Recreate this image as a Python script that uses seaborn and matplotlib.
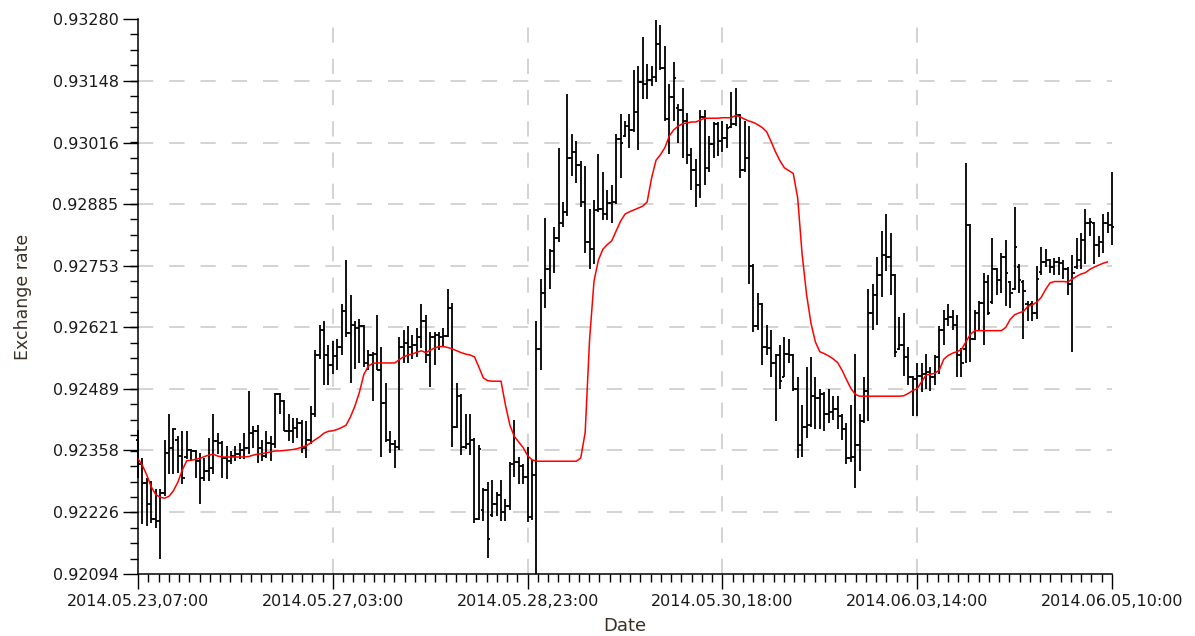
import numpy as np
import pandas as pd
import matplotlib
matplotlib.use("Agg")
import matplotlib.pyplot as plt
import seaborn as sns

# Hourly OHLC bars, 2014.05.23 07:00 .. 2014.06.05 10:00 (one bar per hour, weekend skipped)
bar_open = [
    0.92381, 0.92330, 0.92289, 0.92243, 0.92211, 0.92208, 0.92268, 0.92353, 0.92364, 0.92380,
    0.92346, 0.92345, 0.92360, 0.92357, 0.92335, 0.92300, 0.92314, 0.92321, 0.92378, 0.92374,
    0.92342, 0.92335, 0.92346, 0.92350, 0.92360, 0.92364, 0.92396, 0.92400, 0.92364, 0.92346,
    0.92374, 0.92371, 0.92478, 0.92463, 0.92399, 0.92400, 0.92405, 0.92417, 0.92364, 0.92380,
    0.92435, 0.92561, 0.92616, 0.92561,
    0.92541, 0.92560, 0.92580, 0.92655, 0.92608, 0.92627, 0.92620, 0.92623, 0.92545, 0.92561,
    0.92565, 0.92529, 0.92459, 0.92380, 0.92372, 0.92365, 0.92580, 0.92588, 0.92580, 0.92583,
    0.92600, 0.92635, 0.92561, 0.92600, 0.92604, 0.92600, 0.92603, 0.92663, 0.92408, 0.92474,
    0.92365, 0.92372, 0.92380, 0.92212, 0.92230, 0.92274, 0.92220, 0.92243, 0.92263, 0.92227,
    0.92239, 0.92329, 0.92333, 0.92325,
    0.92302, 0.92216, 0.92305, 0.92575, 0.92694, 0.92745, 0.92784, 0.92812, 0.92843, 0.92867,
    0.92984, 0.92996, 0.92969, 0.92890, 0.92804, 0.92788, 0.92871, 0.92874, 0.92863, 0.92886,
    0.92890, 0.93023, 0.93030, 0.93051, 0.93043, 0.93082, 0.93145, 0.93141, 0.93149, 0.93157,
    0.93227, 0.93176, 0.93067, 0.93114, 0.93090, 0.93086, 0.93063, 0.92990, 0.92957, 0.92925,
    0.93071, 0.92961, 0.93012, 0.93055,
    0.93020, 0.93025, 0.93050, 0.93055, 0.93074, 0.92957, 0.92984, 0.92753, 0.92623, 0.92670,
    0.92580, 0.92576, 0.92545, 0.92561, 0.92516, 0.92565, 0.92561, 0.92490, 0.92369, 0.92408,
    0.92412, 0.92474, 0.92470, 0.92478, 0.92435, 0.92440, 0.92447, 0.92431, 0.92404, 0.92341,
    0.92345, 0.92369, 0.92420, 0.92486, 0.92651, 0.92690, 0.92733, 0.92776, 0.92772, 0.92733,
    0.92575, 0.92584, 0.92557, 0.92514,
    0.92510, 0.92518, 0.92522, 0.92525, 0.92514, 0.92557, 0.92616, 0.92639, 0.92643, 0.92627,
    0.92561, 0.92575, 0.92839, 0.92596, 0.92651, 0.92674, 0.92718, 0.92675, 0.92745, 0.92722,
    0.92772, 0.92718, 0.92702, 0.92750, 0.92718, 0.92670, 0.92670, 0.92651, 0.92740, 0.92761,
    0.92765, 0.92749, 0.92761, 0.92758, 0.92745, 0.92714, 0.92750, 0.92765, 0.92808, 0.92843,
    0.92843, 0.92796, 0.92804, 0.92843, 0.92840,
]
bar_high = [
    0.92401, 0.92342, 0.92300, 0.92293, 0.92275, 0.92275, 0.92381, 0.92435, 0.92406, 0.92389,
    0.92399, 0.92399, 0.92362, 0.92358, 0.92353, 0.92342, 0.92385, 0.92435, 0.92396, 0.92378,
    0.92367, 0.92356, 0.92367, 0.92374, 0.92396, 0.92484, 0.92410, 0.92413, 0.92381, 0.92399,
    0.92389, 0.92480, 0.92480, 0.92466, 0.92435, 0.92428, 0.92428, 0.92424, 0.92421, 0.92453,
    0.92572, 0.92627, 0.92635, 0.92584,
    0.92592, 0.92596, 0.92670, 0.92765, 0.92690, 0.92635, 0.92639, 0.92627, 0.92572, 0.92569,
    0.92647, 0.92580, 0.92502, 0.92400, 0.92380, 0.92600, 0.92616, 0.92623, 0.92604, 0.92620,
    0.92670, 0.92647, 0.92612, 0.92612, 0.92612, 0.92620, 0.92702, 0.92674, 0.92502, 0.92478,
    0.92435, 0.92435, 0.92384, 0.92369, 0.92278, 0.92290, 0.92294, 0.92270, 0.92294, 0.92255,
    0.92333, 0.92423, 0.92345, 0.92330,
    0.92366, 0.92337, 0.92635, 0.92725, 0.92855, 0.92788, 0.92835, 0.93004, 0.92890, 0.93119,
    0.93035, 0.93020, 0.92976, 0.92965, 0.92874, 0.92894, 0.92992, 0.92953, 0.92914, 0.92925,
    0.93035, 0.93078, 0.93063, 0.93078, 0.93172, 0.93180, 0.93242, 0.93184, 0.93180, 0.93278,
    0.93267, 0.93223, 0.93141, 0.93188, 0.93098, 0.93133, 0.93080, 0.93004, 0.92980, 0.93086,
    0.93086, 0.93031, 0.93059, 0.93059,
    0.93063, 0.93055, 0.93125, 0.93133, 0.93078, 0.93063, 0.93051, 0.92756, 0.92694, 0.92673,
    0.92627, 0.92616, 0.92565, 0.92584, 0.92600, 0.92596, 0.92564, 0.92514, 0.92455, 0.92537,
    0.92557, 0.92514, 0.92490, 0.92482, 0.92490, 0.92474, 0.92474, 0.92435, 0.92416, 0.92455,
    0.92565, 0.92435, 0.92514, 0.92702, 0.92714, 0.92772, 0.92827, 0.92863, 0.92823, 0.92736,
    0.92643, 0.92651, 0.92580, 0.92518,
    0.92545, 0.92545, 0.92565, 0.92537, 0.92561, 0.92623, 0.92659, 0.92670, 0.92659, 0.92647,
    0.92576, 0.92973, 0.92842, 0.92659, 0.92678, 0.92737, 0.92733, 0.92812, 0.92748, 0.92780,
    0.92808, 0.92720, 0.92878, 0.92757, 0.92722, 0.92678, 0.92678, 0.92753, 0.92792, 0.92788,
    0.92768, 0.92769, 0.92772, 0.92765, 0.92749, 0.92776, 0.92812, 0.92823, 0.92874, 0.92855,
    0.92846, 0.92816, 0.92863, 0.92867, 0.92953,
]
bar_low = [
    0.92300, 0.92200, 0.92197, 0.92204, 0.92193, 0.92126, 0.92261, 0.92307, 0.92307, 0.92310,
    0.92286, 0.92339, 0.92335, 0.92300, 0.92243, 0.92293, 0.92293, 0.92307, 0.92350, 0.92300,
    0.92296, 0.92328, 0.92335, 0.92339, 0.92339, 0.92350, 0.92364, 0.92332, 0.92335, 0.92342,
    0.92335, 0.92364, 0.92435, 0.92399, 0.92378, 0.92374, 0.92385, 0.92353, 0.92342, 0.92371,
    0.92430, 0.92553, 0.92498, 0.92498,
    0.92521, 0.92529, 0.92561, 0.92600, 0.92502, 0.92533, 0.92545, 0.92537, 0.92529, 0.92463,
    0.92529, 0.92345, 0.92376, 0.92353, 0.92321, 0.92360, 0.92545, 0.92545, 0.92553, 0.92557,
    0.92576, 0.92545, 0.92494, 0.92541, 0.92572, 0.92580, 0.92600, 0.92365, 0.92405, 0.92349,
    0.92361, 0.92349, 0.92204, 0.92210, 0.92208, 0.92129, 0.92216, 0.92219, 0.92208, 0.92208,
    0.92231, 0.92302, 0.92286, 0.92286,
    0.92205, 0.92210, 0.92094, 0.92529, 0.92663, 0.92702, 0.92737, 0.92804, 0.92835, 0.92859,
    0.92945, 0.92929, 0.92878, 0.92780, 0.92745, 0.92757, 0.92867, 0.92851, 0.92851, 0.92843,
    0.92885, 0.92941, 0.93027, 0.93004, 0.93039, 0.93000, 0.93110, 0.93110, 0.93137, 0.93145,
    0.93172, 0.93063, 0.92992, 0.93063, 0.93016, 0.92984, 0.92970, 0.92914, 0.92878, 0.92898,
    0.92925, 0.92953, 0.92984, 0.92988,
    0.92996, 0.93004, 0.93047, 0.93051, 0.92941, 0.92953, 0.92714, 0.92612, 0.92616, 0.92541,
    0.92561, 0.92514, 0.92420, 0.92490, 0.92514, 0.92545, 0.92486, 0.92341, 0.92345, 0.92384,
    0.92408, 0.92404, 0.92404, 0.92400, 0.92416, 0.92423, 0.92404, 0.92380, 0.92329, 0.92333,
    0.92278, 0.92314, 0.92417, 0.92420, 0.92616, 0.92627, 0.92686, 0.92741, 0.92690, 0.92557,
    0.92572, 0.92518, 0.92498, 0.92431,
    0.92431, 0.92482, 0.92490, 0.92486, 0.92498, 0.92522, 0.92584, 0.92623, 0.92616, 0.92514,
    0.92514, 0.92545, 0.92547, 0.92593, 0.92616, 0.92584, 0.92647, 0.92670, 0.92690, 0.92694,
    0.92667, 0.92663, 0.92700, 0.92694, 0.92596, 0.92635, 0.92635, 0.92639, 0.92733, 0.92749,
    0.92737, 0.92733, 0.92733, 0.92725, 0.92690, 0.92569, 0.92745, 0.92745, 0.92757, 0.92816,
    0.92757, 0.92772, 0.92780, 0.92823, 0.92796,
]
bar_close = [
    0.92330, 0.92289, 0.92243, 0.92211, 0.92208, 0.92268, 0.92353, 0.92364, 0.92403, 0.92346,
    0.92300, 0.92360, 0.92357, 0.92335, 0.92300, 0.92314, 0.92321, 0.92378, 0.92374, 0.92342,
    0.92335, 0.92346, 0.92350, 0.92360, 0.92364, 0.92396, 0.92400, 0.92364, 0.92346, 0.92374,
    0.92371, 0.92478, 0.92463, 0.92399, 0.92400, 0.92405, 0.92417, 0.92364, 0.92380, 0.92435,
    0.92561, 0.92616, 0.92561, 0.92541,
    0.92560, 0.92580, 0.92655, 0.92608, 0.92627, 0.92620, 0.92623, 0.92545, 0.92561, 0.92565,
    0.92529, 0.92459, 0.92380, 0.92372, 0.92365, 0.92580, 0.92588, 0.92580, 0.92583, 0.92600,
    0.92635, 0.92561, 0.92600, 0.92604, 0.92600, 0.92603, 0.92663, 0.92408, 0.92474, 0.92365,
    0.92372, 0.92380, 0.92212, 0.92361, 0.92274, 0.92168, 0.92243, 0.92263, 0.92227, 0.92239,
    0.92329, 0.92333, 0.92325, 0.92302,
    0.92216, 0.92305, 0.92575, 0.92694, 0.92745, 0.92784, 0.92812, 0.92843, 0.92867, 0.92984,
    0.92996, 0.92969, 0.92890, 0.92804, 0.92788, 0.92871, 0.92874, 0.92863, 0.92886, 0.92890,
    0.93023, 0.93016, 0.93051, 0.93043, 0.93082, 0.93145, 0.93141, 0.93149, 0.93157, 0.93227,
    0.93176, 0.93067, 0.93114, 0.93153, 0.93086, 0.93063, 0.92990, 0.92957, 0.92925, 0.93071,
    0.92961, 0.93012, 0.93055, 0.93020,
    0.93025, 0.93047, 0.93055, 0.93074, 0.92957, 0.92984, 0.92753, 0.92623, 0.92670, 0.92580,
    0.92576, 0.92545, 0.92561, 0.92506, 0.92565, 0.92561, 0.92490, 0.92369, 0.92408, 0.92412,
    0.92474, 0.92470, 0.92478, 0.92435, 0.92440, 0.92447, 0.92431, 0.92404, 0.92341, 0.92345,
    0.92369, 0.92420, 0.92486, 0.92651, 0.92690, 0.92733, 0.92776, 0.92772, 0.92733, 0.92569,
    0.92584, 0.92557, 0.92514, 0.92510,
    0.92518, 0.92522, 0.92525, 0.92514, 0.92557, 0.92616, 0.92639, 0.92643, 0.92627, 0.92561,
    0.92545, 0.92839, 0.92596, 0.92651, 0.92674, 0.92718, 0.92651, 0.92745, 0.92722, 0.92772,
    0.92737, 0.92694, 0.92792, 0.92722, 0.92698, 0.92668, 0.92651, 0.92725, 0.92761, 0.92765,
    0.92749, 0.92761, 0.92758, 0.92745, 0.92714, 0.92737, 0.92765, 0.92808, 0.92843, 0.92847,
    0.92796, 0.92804, 0.92843, 0.92840, 0.92835,
]
# Moving average of the rate (red line), one value per bar up to the last completed one
moving_avg = [
    0.92340, 0.92326, 0.92305, 0.92280, 0.92264, 0.92258, 0.92256, 0.92260, 0.92272, 0.92290,
    0.92316, 0.92336, 0.92337, 0.92339, 0.92341, 0.92345, 0.92348, 0.92350, 0.92346, 0.92344,
    0.92344, 0.92344, 0.92344, 0.92344, 0.92344, 0.92345, 0.92348, 0.92350, 0.92351, 0.92353,
    0.92355, 0.92357, 0.92357, 0.92358, 0.92359, 0.92360, 0.92362, 0.92365, 0.92368, 0.92374,
    0.92381, 0.92387, 0.92395, 0.92399,
    0.92400, 0.92403, 0.92407, 0.92412, 0.92430, 0.92453, 0.92482, 0.92520, 0.92538, 0.92544,
    0.92545, 0.92545, 0.92545, 0.92545, 0.92545, 0.92552, 0.92558, 0.92562, 0.92564, 0.92568,
    0.92571, 0.92567, 0.92572, 0.92577, 0.92580, 0.92580, 0.92578, 0.92575, 0.92571, 0.92567,
    0.92564, 0.92562, 0.92558, 0.92536, 0.92513, 0.92507, 0.92506, 0.92506, 0.92506, 0.92455,
    0.92412, 0.92388, 0.92376, 0.92364,
    0.92347, 0.92338, 0.92335, 0.92335, 0.92335, 0.92335, 0.92335, 0.92335, 0.92335, 0.92335,
    0.92335, 0.92335, 0.92342, 0.92396, 0.92595, 0.92720, 0.92765, 0.92788, 0.92798, 0.92806,
    0.92827, 0.92848, 0.92863, 0.92868, 0.92872, 0.92876, 0.92880, 0.92889, 0.92940, 0.92978,
    0.92990, 0.93005, 0.93030, 0.93043, 0.93051, 0.93056, 0.93058, 0.93060, 0.93060, 0.93064,
    0.93068, 0.93068, 0.93068, 0.93068,
    0.93069, 0.93069, 0.93069, 0.93074, 0.93071, 0.93066, 0.93062, 0.93059, 0.93054, 0.93048,
    0.93039, 0.93018, 0.92996, 0.92977, 0.92962, 0.92956, 0.92950, 0.92898, 0.92778, 0.92692,
    0.92630, 0.92590, 0.92569, 0.92565, 0.92560, 0.92554, 0.92546, 0.92530, 0.92510, 0.92491,
    0.92478, 0.92474, 0.92474, 0.92474, 0.92474, 0.92474, 0.92474, 0.92474, 0.92474, 0.92474,
    0.92474, 0.92475, 0.92480, 0.92486,
    0.92490, 0.92505, 0.92519, 0.92521, 0.92523, 0.92530, 0.92553, 0.92561, 0.92566, 0.92569,
    0.92574, 0.92590, 0.92606, 0.92614, 0.92614, 0.92614, 0.92614, 0.92614, 0.92614, 0.92614,
    0.92621, 0.92638, 0.92648, 0.92652, 0.92655, 0.92666, 0.92669, 0.92675, 0.92685, 0.92702,
    0.92716, 0.92719, 0.92719, 0.92719, 0.92718, 0.92724, 0.92730, 0.92735, 0.92738, 0.92745,
    0.92750, 0.92754, 0.92758, 0.92761,
]

date_positions = [0, 44, 88, 132, 176, 220]
date_labels = ["2014.05.23,07:00", "2014.05.27,03:00", "2014.05.28,23:00",
               "2014.05.30,18:00", "2014.06.03,14:00", "2014.06.05,10:00"]
rate_ticks = [0.92094, 0.92226, 0.92358, 0.92489, 0.92621,
              0.92753, 0.92885, 0.93016, 0.93148, 0.93280]
rate_labels = ["0.92094", "0.92226", "0.92358", "0.92489", "0.92621",
               "0.92753", "0.92885", "0.93016", "0.93148", "0.93280"]

sns.set_theme(style="ticks")
plt.rcParams["font.family"] = ["DejaVu Sans"]
plt.rcParams["lines.scale_dashes"] = False

W, H = 1195, 636
fig = plt.figure(figsize=(W / 100, H / 100), dpi=100)
fig.patch.set_facecolor("white")
ax = fig.add_axes([138 / W, 62 / H, (1112 - 138) / W, (574 - 19) / H])
ax.set_facecolor("white")

x_min, x_max = date_positions[0], date_positions[-1]
y_min, y_max = rate_ticks[0], rate_ticks[-1]
ax.set_xlim(x_min, x_max)
ax.set_ylim(y_min, y_max)

# dashed grid at the interior major ticks
grid_style = dict(color="#c8c8c8", linewidth=1.1, linestyle=(0, (11, 11.5)), zorder=0)
for yv in rate_ticks[1:-1]:
    ax.axhline(yv, **grid_style)
for xv in date_positions[1:-1]:
    ax.axvline(xv, **grid_style)

# OHLC bars: high-low stem, open tick to the left, close tick to the right
idx = np.arange(len(bar_close))
ohlc = pd.DataFrame({"bar": idx, "open": bar_open, "high": bar_high,
                     "low": bar_low, "close": bar_close})
tick_w = 0.55
bar_kw = dict(color="black", linewidth=1.3, zorder=3, clip_on=False)
ax.vlines(ohlc["bar"], ohlc["low"], ohlc["high"], **bar_kw)
ax.hlines(ohlc["open"], ohlc["bar"] - tick_w, ohlc["bar"], **bar_kw)
ax.hlines(ohlc["close"], ohlc["bar"], ohlc["bar"] + tick_w, **bar_kw)

ma = pd.DataFrame({"bar": np.arange(len(moving_avg)), "rate": moving_avg})
sns.lineplot(data=ma, x="bar", y="rate", color="#ff0000", linewidth=1.1,
             ax=ax, zorder=4)

ax.set_xticks(date_positions)
ax.set_xticklabels(date_labels)
ax.set_yticks(rate_ticks)
ax.set_yticklabels(rate_labels)
ax.set_xticks(np.linspace(x_min, x_max, 96), minor=True)
ax.set_yticks(np.linspace(y_min, y_max, 37), minor=True)

ax.tick_params(axis="both", which="major", direction="out", length=11, width=1.0,
               color="black", labelcolor="#1a1a1a", labelsize=11.5)
ax.tick_params(axis="both", which="minor", direction="out", length=5.5, width=1.0,
               color="black")
ax.tick_params(axis="x", which="major", pad=3.5)
ax.tick_params(axis="y", which="major", pad=3)

for side in ("top", "right"):
    ax.spines[side].set_visible(False)
for side in ("left", "bottom"):
    ax.spines[side].set_color("black")
    ax.spines[side].set_linewidth(1.1)

label_color = "#3b3024"
ax.set_xlabel("Date", fontsize=13, color=label_color, labelpad=6)
ax.set_ylabel("Exchange rate", fontsize=12.5, color=label_color, labelpad=15)

fig.savefig("out.png", dpi=100, facecolor="white")
